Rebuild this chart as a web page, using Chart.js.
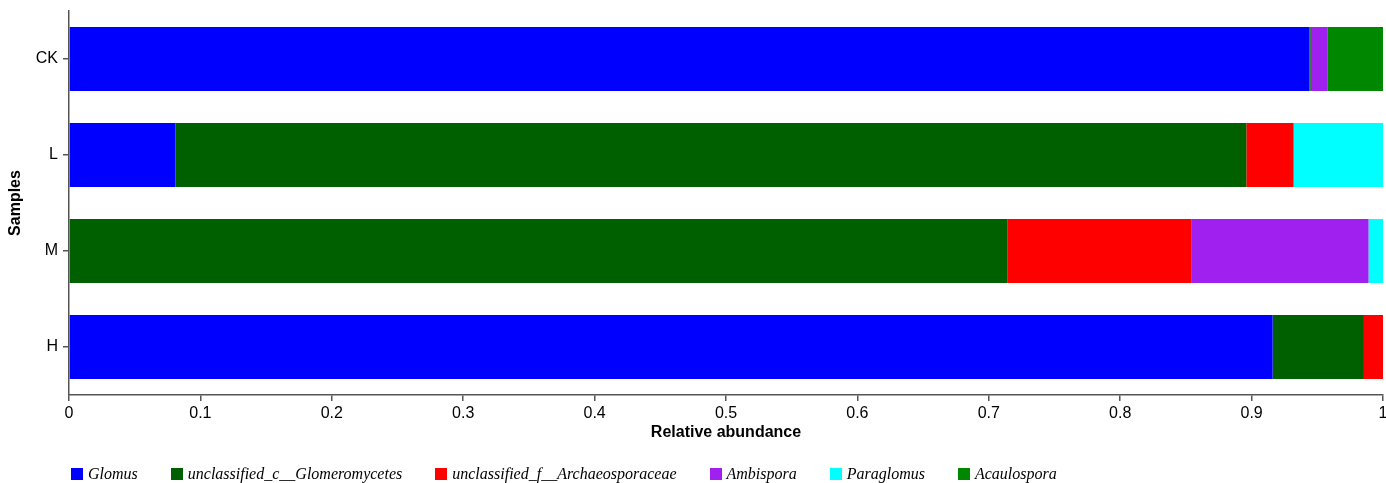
<!DOCTYPE html>
<html>
<head>
<meta charset="utf-8">
<script src="https://cdn.jsdelivr.net/npm/chart.js@4"></script>
<style>
    html, body { margin: 0; padding: 0; background: #fff; }
    #wrap { position: relative; width: 1386px; height: 483px; }
    #legenda {
        position: absolute; left: 71px; top: 465px;
        display: flex; align-items: center;
        font-family: "Liberation Serif", "Times New Roman", serif;
        font-style: italic; font-size: 16px; color: #000;
    }
    #legenda .item { display: flex; align-items: center; margin-right: 33px; }
    #legenda .caixa { width: 12px; height: 12px; margin-right: 5px; }
</style>
</head>
<body>
<div id="wrap">
    <canvas id="grafico" width="1386" height="483"></canvas>
    <div id="legenda"></div>
</div>
<script>
// amostras (eixo y)
const amostras = ['CK', 'L', 'M', 'H'];

// generos / grupos
const grupos = ['Glomus', 'unclassified_c__Glomeromycetes', 'unclassified_f__Archaeosporaceae',
    'Ambispora', 'Paraglomus', 'Acaulospora'];

// abundancia relativa por amostra (CK, L, M, H)
const glomus = [0.944, 0.081, 0, 0.916];
const unclassGlomeromycetes = [0.001, 0.815, 0.714, 0.0695];
const unclassArchaeosporaceae = [0, 0.036, 0.140, 0.0145];
const ambispora = [0.013, 0, 0.135, 0];
const paraglomus = [0, 0.068, 0.011, 0];
const acaulospora = [0.042, 0, 0, 0];

const cores = ['#0000FF', '#006000', '#FF0000', '#A020F0', '#00FFFF', '#008700'];
const valores = [glomus, unclassGlomeromycetes, unclassArchaeosporaceae, ambispora, paraglomus, acaulospora];

const corEixo = '#555';

new Chart(document.getElementById('grafico'), {
    type: 'bar',
    data: {
        labels: amostras,
        datasets: grupos.map((g, i) => ({
            label: g,
            data: valores[i],
            backgroundColor: cores[i],
            borderWidth: 0,
            barPercentage: 0.667,
            categoryPercentage: 1
        }))
    },
    options: {
        indexAxis: 'y',
        responsive: false,
        animation: false,
        devicePixelRatio: 1,
        layout: { padding: { left: 0, right: 3, top: 11, bottom: 40 } },
        plugins: { legend: { display: false }, tooltip: { enabled: false } },
        scales: {
            x: {
                stacked: true,
                min: 0,
                max: 1,
                afterFit: s => { s.height = 48; s.paddingLeft = 0; s.paddingRight = 0; },
                ticks: {
                    stepSize: 0.1,
                    color: '#000',
                    padding: 3,
                    font: { family: 'Liberation Sans', size: 16 },
                    callback: v => String(+v.toFixed(1))
                },
                grid: { display: true, drawOnChartArea: false, drawTicks: true, tickLength: 6, color: corEixo, lineWidth: 1.5 },
                border: { display: true, color: corEixo, width: 1.5 },
                title: {
                    display: true,
                    text: 'Relative abundance',
                    color: '#000',
                    padding: { top: 0, bottom: 1 },
                    font: { family: 'Liberation Sans', size: 16, weight: 'bold' }
                }
            },
            y: {
                stacked: true,
                afterFit: s => { s.width = 69; s.paddingTop = 0; s.paddingBottom = 0; },
                ticks: {
                    color: '#000',
                    padding: 5,
                    font: { family: 'Liberation Sans', size: 16 }
                },
                grid: { display: true, offset: false, drawOnChartArea: false, drawTicks: true, tickLength: 6, color: corEixo, lineWidth: 1.5 },
                border: { display: true, color: corEixo, width: 1.5 },
                title: {
                    display: true,
                    text: 'Samples',
                    color: '#000',
                    padding: { top: 6, bottom: 0 },
                    font: { family: 'Liberation Sans', size: 16, weight: 'bold' }
                }
            }
        }
    }
});

// legenda em html, abaixo do grafico
const legenda = document.getElementById('legenda');
grupos.forEach((g, i) => {
    const item = document.createElement('div');
    item.className = 'item';
    item.innerHTML = '<span class="caixa" style="background:' + cores[i] + '"></span><span>' + g + '</span>';
    legenda.appendChild(item);
});
</script>
</body>
</html>
